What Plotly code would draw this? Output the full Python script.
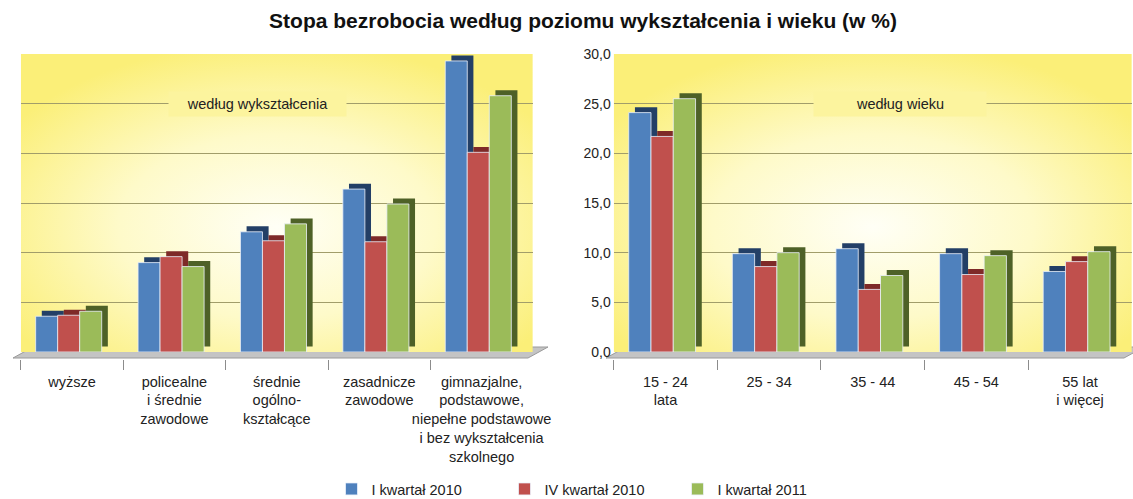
import base64
import plotly.graph_objects as go

W, H = 1133, 499

title_text = "Stopa bezrobocia według poziomu wykształcenia i wieku (w %)"
series_names = ["I kwartał 2010", "IV kwartał 2010", "I kwartał 2011"]

edu_categories = [
    "wyższe",
    "policealne<br>i średnie<br>zawodowe",
    "średnie<br>ogólno-<br>kształcące",
    "zasadnicze<br>zawodowe",
    "gimnazjalne,<br>podstawowe,<br>niepełne podstawowe<br>i bez wykształcenia<br>szkolnego",
]
edu_q1_2010 = [3.6, 9.0, 12.1, 16.4, 29.3]
edu_q4_2010 = [3.7, 9.6, 11.2, 11.1, 20.1]
edu_q1_2011 = [4.1, 8.6, 12.9, 14.9, 25.8]

age_categories = ["15 - 24<br>lata", "25 - 34", "35 - 44", "45 - 54", "55 lat<br>i więcej"]
age_q1_2010 = [24.1, 9.9, 10.4, 9.9, 8.1]
age_q4_2010 = [21.7, 8.6, 6.3, 7.8, 9.1]
age_q1_2011 = [25.5, 10.0, 7.7, 9.7, 10.1]

y_ticks = [0, 5, 10, 15, 20, 25, 30]

front_colors = ["#4f81bd", "#c0504d", "#9bbb59"]
side_colors = ["#233f66", "#7e2a28", "#4e6127"]

FONT = "Liberation Sans, Arial, sans-serif"


def px_x(x):
    return x / W


def px_y(y):
    return 1 - y / H


bar_w = 0.215
offsets = [-0.355, -0.14, 0.075]
depth_x = 0.06
depth_y = 0.55

fig = go.Figure()


def add_group(cats, series, xa, ya, show_legend):
    for i, (name, vals) in enumerate(zip(series_names, series)):
        # darker side/top face for a pseudo-3D look, drawn behind the front face
        fig.add_trace(go.Bar(
            x=cats, y=vals, base=depth_y, width=bar_w, offset=offsets[i] + depth_x,
            marker=dict(color=side_colors[i], line=dict(width=0)),
            xaxis=xa, yaxis=ya, showlegend=False, hoverinfo="skip",
        ))
        fig.add_trace(go.Bar(
            x=cats, y=vals, name=name, width=bar_w, offset=offsets[i],
            marker=dict(color=front_colors[i], line=dict(width=1, color="rgba(235,240,250,0.8)")),
            xaxis=xa, yaxis=ya, showlegend=show_legend,
        ))


add_group(edu_categories, [edu_q1_2010, edu_q4_2010, edu_q1_2011], "x", "y", True)
add_group(age_categories, [age_q1_2010, age_q4_2010, age_q1_2011], "x2", "y2", False)

y_dom = [px_y(352), px_y(54)]
x_pos = px_y(359)

common_x = dict(
    type="category", tickson="boundaries", ticks="outside", ticklen=10,
    tickcolor="#8c8c8c", tickwidth=1, showgrid=False, showline=False, zeroline=False,
    anchor="free", position=x_pos, tickangle=0, automargin=False, ticklabelstandoff=12,
    tickfont=dict(family=FONT, size=14.5, color="#222222"),
)
common_y = dict(
    range=[0, 30], tickvals=y_ticks, showgrid=True, gridcolor="#a19d6a", gridwidth=1,
    zeroline=False, showline=False, domain=y_dom, automargin=False,
    tickfont=dict(family=FONT, size=14, color="#222222"),
)

floor_color = "#c4c4c4"


def floor(front_l, front_r, back_l, back_r, y_front=358, y_back=347):
    return dict(
        type="path", xref="paper", yref="paper", layer="below",
        path=(f"M {px_x(front_l)},{px_y(y_front)} L {px_x(front_r)},{px_y(y_front)} "
              f"L {px_x(back_r)},{px_y(y_back)} L {px_x(back_l)},{px_y(y_back)} Z"),
        fillcolor=floor_color, line=dict(color="#9a9a9a", width=1),
    )


shapes = [floor(13, 528, 33, 548), floor(606, 1124, 626, 1144)]

# radial yellow gradient for the chart walls (decorative background)
wall_svg = (
    '<svg xmlns="http://www.w3.org/2000/svg" width="512" height="298" viewBox="0 0 512 298" '
    'preserveAspectRatio="none"><defs><radialGradient id="g" cx="0.5" cy="0.58" r="0.62">'
    '<stop offset="0" stop-color="#fffff6"/><stop offset="0.5" stop-color="#fefac9"/>'
    '<stop offset="1" stop-color="#fbef78"/></radialGradient></defs>'
    '<rect width="512" height="298" fill="url(#g)"/></svg>'
)
wall_src = "data:image/svg+xml;base64," + base64.b64encode(wall_svg.encode()).decode()
images = [
    dict(source=wall_src, xref=xr, yref=yr, x=0, y=1, sizex=1, sizey=1,
         xanchor="left", yanchor="top", sizing="stretch", layer="below")
    for xr, yr in [("x domain", "y domain"), ("x2 domain", "y2 domain")]
]

fig.update_layout(
    width=W, height=H, autosize=False,
    margin=dict(l=0, r=0, t=0, b=0, autoexpand=False),
    paper_bgcolor="white",
    plot_bgcolor="rgba(0,0,0,0)",
    separators=", ",
    barmode="overlay",
    font=dict(family=FONT, size=14, color="#222222"),
    xaxis=dict(domain=[px_x(20.8), px_x(532.8)], **common_x),
    xaxis2=dict(domain=[px_x(613.7), px_x(1131.8)], **common_x),
    yaxis=dict(anchor="x", showticklabels=False, ticks="", **common_y),
    yaxis2=dict(anchor="x2", showticklabels=True, tickformat=".1f", ticks="", ticklabelstandoff=2, **common_y),
    shapes=shapes,
    images=images,
    title=dict(
        text=title_text, x=px_x(583), xanchor="center", y=px_y(21), yanchor="middle",
        font=dict(family=FONT, size=21, color="#111111", weight="bold"),
    ),
    legend=dict(
        orientation="h", x=px_x(591), xanchor="center", y=px_y(489), yanchor="middle",
        font=dict(family=FONT, size=14.5, color="#222222"), bgcolor="rgba(0,0,0,0)",
        itemwidth=30, tracegroupgap=0, entrywidth=128, entrywidthmode="pixels",
    ),
    annotations=[
        dict(text="według wykształcenia", xref="x domain", yref="y", x=0.463, y=25,
             showarrow=False, bgcolor="#fcf49e", width=175, height=22,
             font=dict(family=FONT, size=14.5, color="#222222")),
        dict(text="według wieku", xref="x2 domain", yref="y2", x=0.5526, y=25,
             showarrow=False, bgcolor="#fcf49e", width=170, height=22,
             font=dict(family=FONT, size=14.5, color="#222222")),
    ],
    showlegend=True,
)

fig.write_html(
    "out.html",
    config={"displayModeBar": False},
    post_script="document.body.style.margin='0px';",
)
